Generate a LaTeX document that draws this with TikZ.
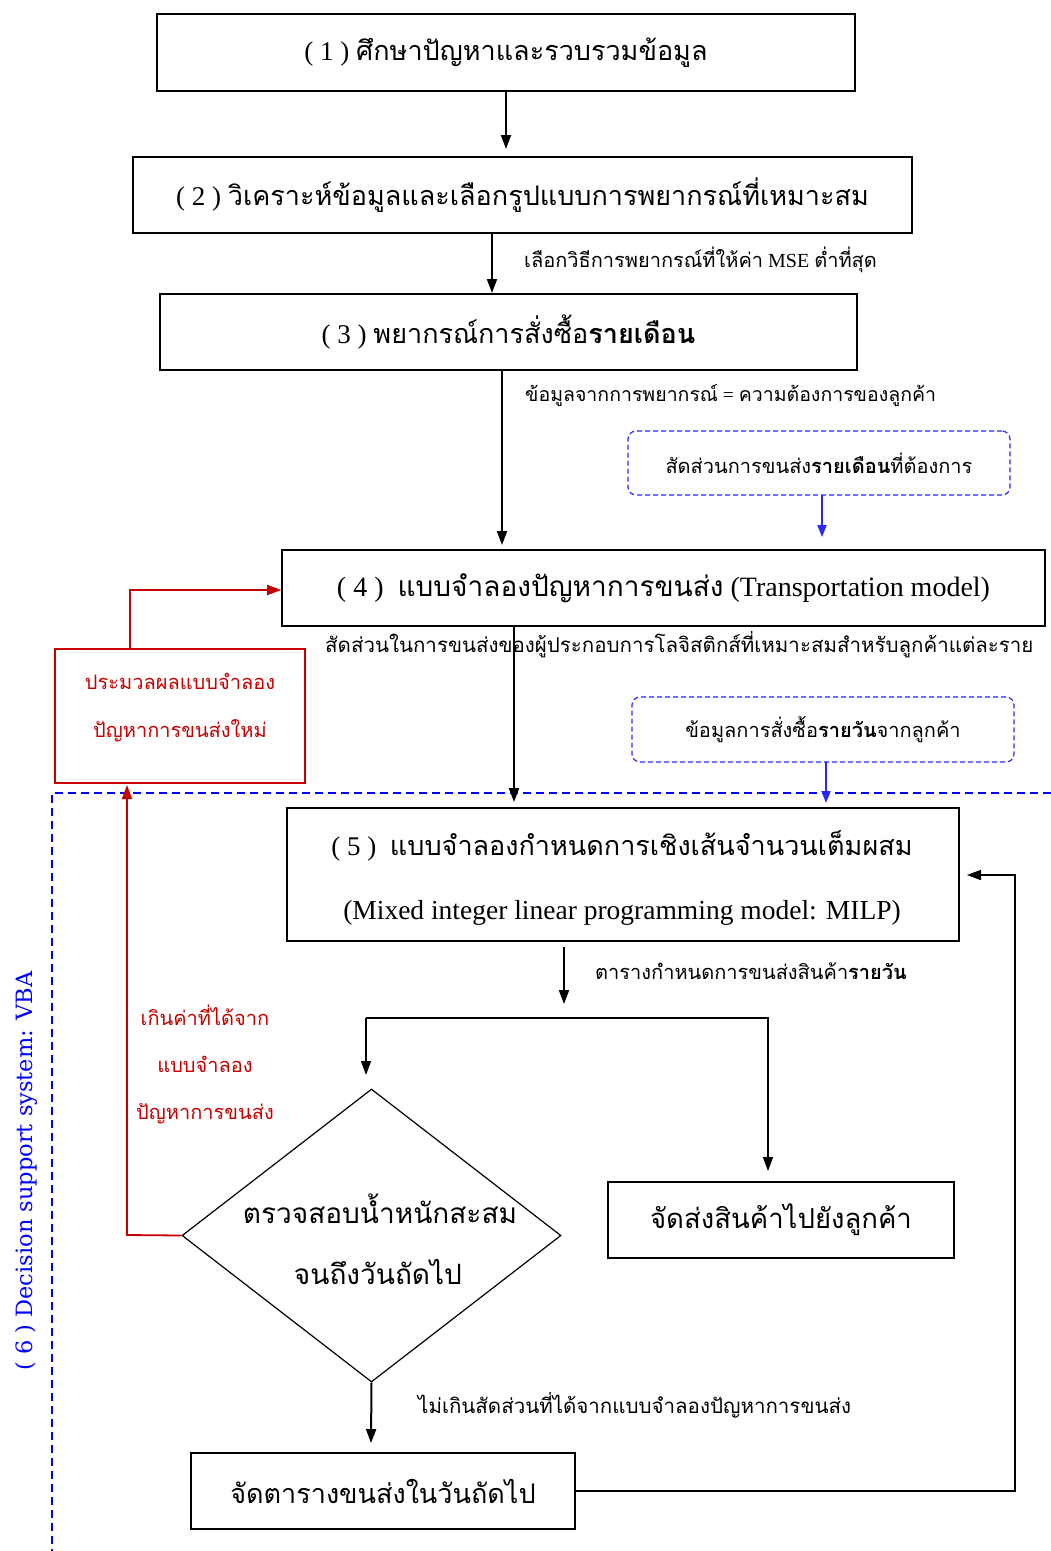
\documentclass[tikz,border=0pt]{standalone}
\usepackage{fontspec}
\setmainfont{Liberation Serif}
\newfontfamily\thaifont[Script=Thai]{Loma}
\newfontfamily\sidefont{DejaVu Serif}
\usetikzlibrary{arrows.meta,shapes.geometric}
\definecolor{flowred}{RGB}{200,0,0}
\definecolor{flowblue}{RGB}{40,40,255}
\definecolor{vbablue}{RGB}{0,0,255}
\newcommand{\T}[1]{{\thaifont #1}}
\tikzset{
  stepbox/.style={draw, line width=1.6pt, inner sep=0pt, align=center, font=\fontsize{27}{31}\selectfont},
  inputbox/.style={draw=flowblue, dash pattern=on 5pt off 3pt, line width=1.2pt, rounded corners=8pt, inner sep=0pt, align=center, font=\fontsize{20}{24}\selectfont},
  redbox/.style={draw=flowred, line width=1.3pt, inner sep=0pt},
  flow/.style={line width=2pt, -{Triangle[length=14pt,width=10pt]}},
  thin flow/.style={line width=1.5pt, -{Triangle[length=14pt,width=10pt]}},
  blueflow/.style={flowblue, line width=1.8pt, -{Triangle[length=12pt,width=9pt]}},
  redflow/.style={flowred, line width=1.8pt, -{Triangle[length=14pt,width=10pt]}},
  note/.style={anchor=west, inner sep=0pt, font=\fontsize{20}{24}\selectfont},
  rednote/.style={inner sep=0pt, text=flowred, font=\fontsize{20}{24}\selectfont},
  plain/.style={inner sep=0pt, font=\fontsize{27}{31}\selectfont},
}
\begin{document}
\begin{tikzpicture}[x=1pt, y=-1pt]
\useasboundingbox[fill=white] (0,0) rectangle (1051,1551);

% main steps
\node[stepbox, minimum width=698pt, minimum height=77pt] (s1) at (506,52.5)
  {( 1 ) \T{ศึกษาปัญหาและรวบรวมข้อมูล}};
\node[stepbox, minimum width=779pt, minimum height=76pt] (s2) at (522.5,195)
  {( 2 ) \T{วิเคราะห์ข้อมูลและเลือกรูปแบบการพยากรณ์ที่เหมาะสม}};
\node[stepbox, minimum width=697pt, minimum height=76pt] (s3) at (508.5,332)
  {( 3 ) \T{พยากรณ์การสั่งซื้อ\textbf{รายเดือน}}};
\node[stepbox, minimum width=763pt, minimum height=76pt, font=\fontsize{28}{32}\selectfont] (s4) at (663.5,588)
  {( 4 )\ \ \T{แบบจำลองปัญหาการขนส่ง} (Transportation model)};
\node[stepbox, minimum width=672pt, minimum height=133pt] (s5) at (623,874.5) {};
\node[plain, font=\fontsize{27}{31}\selectfont] (s5a) at (622,846)
  {( 5 )\ \ \T{แบบจำลองกำหนดการเชิงเส้นจำนวนเต็มผสม}};
\node[plain, font=\fontsize{27.5}{31}\selectfont] (s5b) at (622,913)
  {(Mixed integer linear programming model: MILP)};
\node[draw, line width=1.2pt, diamond, aspect=1.3, minimum width=379pt, minimum height=293pt, inner sep=0pt] (chk) at (371.5,1235.5) {};
\node[plain, font=\fontsize{28}{32}\selectfont] (chka) at (380,1209) {\T{ตรวจสอบน้ำหนักสะสม}};
\node[plain, font=\fontsize{28}{32}\selectfont] (chkb) at (378,1272) {\T{จนถึงวันถัดไป}};
\node[stepbox, minimum width=346pt, minimum height=76pt, font=\fontsize{27.5}{32}\selectfont] (ship) at (781,1220)
  {\T{จัดส่งสินค้าไปยังลูกค้า}};
\node[stepbox, minimum width=384pt, minimum height=76pt, font=\fontsize{27}{31}\selectfont] (next) at (383,1491)
  {\T{จัดตารางขนส่งในวันถัดไป}};

% inputs
\node[inputbox, minimum width=382pt, minimum height=64pt] (in1) at (819,463)
  {\T{สัดส่วนการขนส่ง\textbf{รายเดือน}ที่ต้องการ}};
\node[inputbox, minimum width=382pt, minimum height=65pt] (in2) at (823,729.5)
  {\T{ข้อมูลการสั่งซื้อ\textbf{รายวัน}จากลูกค้า}};

% re-run box
\node[redbox, minimum width=250pt, minimum height=134pt] (rerun) at (180,716) {};
\node[rednote] (rerun1) at (180,681) {\T{ประมวลผลแบบจำลอง}};
\node[rednote] (rerun2) at (180,731) {\T{ปัญหาการขนส่งใหม่}};

% decision support boundary
\draw[vbablue, dashed, dash pattern=on 8pt off 5pt, line width=1.5pt] (1051,793) -- (52,793) -- (52,1551);
\node[rotate=90, text=vbablue, inner sep=0pt, font=\sidefont\fontsize{22.5}{26}\selectfont] (dss) at (26,1171)
  {( 6 ) Decision support system: VBA};

% connectors
\draw[flow] (506,91) -- (506,149);
\draw[flow] (492,233) -- (492,293);
\node[note] (n2) at (524,260) {\T{เลือกวิธีการพยากรณ์ที่ให้ค่า} MSE \T{ต่ำที่สุด}};
\draw[flow] (502,370) -- (502,545);
\node[note, font=\fontsize{19.5}{24}\selectfont] (n3) at (525,395) {\T{ข้อมูลจากการพยากรณ์} = \T{ความต้องการของลูกค้า}};
\draw[blueflow] (822,495) -- (822,537);
\draw[flow] (514,626) -- (514,802);
\node[note, font=\fontsize{20.5}{24}\selectfont] (n4) at (325,645) {\T{สัดส่วนในการขนส่งของผู้ประกอบการโลจิสติกส์ที่เหมาะสมสำหรับลูกค้าแต่ละราย}};
\draw[blueflow] (826,762) -- (826,803);

\draw[redflow] (130,649) -- (130,590) -- (s4.west |- 0,590);
\draw[redflow] (chk.west) -- (127,1235) -- (127,785);
\node[rednote] (r1) at (205,1015) {\T{เกินค่าที่ได้จาก}};
\node[rednote] (r2) at (205,1064) {\T{แบบจำลอง}};
\node[rednote] (r3) at (205,1114) {\T{ปัญหาการขนส่ง}};

\coordinate (split) at (366,1018);
\draw[flow] (564,947) -- (564,1004);
\node[note] (n5) at (595,971) {\T{ตารางกำหนดการขนส่งสินค้า\textbf{รายวัน}}};
\draw[thin flow] (split) -- (366,1075);
\draw[thin flow] (split) -- (768,1018) -- (768,1171);
\draw[flow] (chk.south) -- (371,1443);
\node[note, font=\fontsize{20.5}{24}\selectfont] (n6) at (418,1405) {\T{ไม่เกินสัดส่วนที่ได้จากแบบจำลองปัญหาการขนส่ง}};
\draw[thin flow] (next.east) -- (1015,1491) -- (1015,875) -- (967,875);
\end{tikzpicture}
\end{document}
